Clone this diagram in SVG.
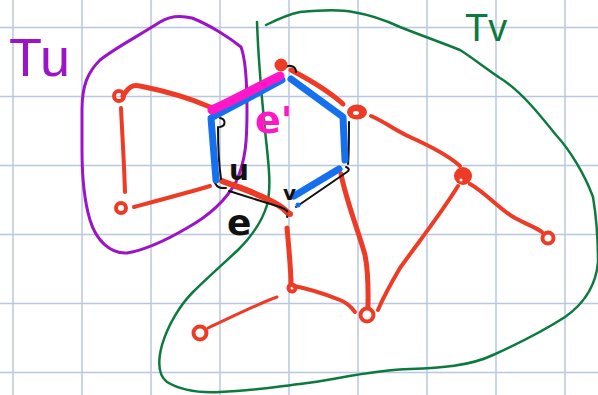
<svg xmlns="http://www.w3.org/2000/svg" width="598" height="395" viewBox="0 0 598 395">
<defs>
<style>
.grid line{stroke:#b9c8e0;stroke-width:1.5}
.red{fill:none;stroke:#ee3b26;stroke-linecap:round;stroke-linejoin:round}
.blue{fill:none;stroke:#1570ef;stroke-width:7;stroke-linecap:round;stroke-linejoin:round}
.blk{fill:none;stroke:#111;stroke-width:2;stroke-linecap:round;stroke-linejoin:round}
.nd{fill:none;stroke:#ee3b26;stroke-width:4}
.lbl{font-family:"DejaVu Sans","Liberation Sans",sans-serif}
.big{font-family:"Liberation Sans","DejaVu Sans",sans-serif}
</style>
</defs>
<rect width="598" height="395" fill="#fff"/>
<g class="grid">
<line x1="13" y1="0" x2="13" y2="395"/><line x1="82" y1="0" x2="82" y2="395"/><line x1="151" y1="0" x2="151" y2="395"/><line x1="220" y1="0" x2="220" y2="395"/><line x1="289" y1="0" x2="289" y2="395"/><line x1="358" y1="0" x2="358" y2="395"/><line x1="427" y1="0" x2="427" y2="395"/><line x1="496" y1="0" x2="496" y2="395"/><line x1="565" y1="0" x2="565" y2="395"/>
<line x1="0" y1="27.5" x2="598" y2="27.5"/><line x1="0" y1="96.5" x2="598" y2="96.5"/><line x1="0" y1="165.5" x2="598" y2="165.5"/><line x1="0" y1="234.5" x2="598" y2="234.5"/><line x1="0" y1="303.5" x2="598" y2="303.5"/><line x1="0" y1="372.5" x2="598" y2="372.5"/>
</g>
<g id="Tu-region">
<path d="M241,47 C246,60 247,80 247,110 C247,140 246,160 236,182 C225,202 205,218 187,228 C170,238 145,250 127,253 C110,254 96,240 90,220 C84,200 82,180 82,150 L82,110 C82,85 88,72 100,60 C115,48 140,35 160,22 C168,17 180,15 192,18 C210,25 230,38 241,47" fill="none" stroke="#9b14c8" stroke-width="3" stroke-linecap="round"/>
<text class="big" x="9" y="76" font-size="54" fill="#9b14c8">Tu</text>
</g>
<g id="Tv-region">
<path d="M257,22 C258,50 261,90 265,130 C268,160 272,185 267,205 C262,222 250,238 238,250 C225,262 205,280 193,292 C180,305 168,325 162,345 C158,360 158,375 167,382 C180,390 200,393 220,392 C250,391 275,387 300,384 C335,380 370,370 410,369 C440,368 470,366 493,355 C515,345 545,330 565,317 C585,303 596,285 598,262 C598,240 596,215 593,197 C585,175 570,150 556,135 C540,115 520,90 500,78 C485,68 470,56 460,50 C440,42 420,35 400,27 C385,20 365,14 353,12 C340,9 320,10 300,12 C290,14 280,18 266,25" fill="none" stroke="#0b7a3c" stroke-width="2.5" stroke-linecap="round"/>
<text class="big" x="465" y="41" font-size="38" fill="#0b7a3c">Tv</text>
</g>
<g id="connectors">
<path class="red" stroke-width="5" d="M123,96 C128,88 132,84 140,86 C160,90 185,96 210,107"/>
<path class="red" stroke-width="4" d="M121,108 C122,130 124,160 125,192"/>
<path class="red" stroke-width="4" d="M134,207 C160,200 190,192 210,186"/>
<path class="red" stroke-width="5" d="M291,70 C310,80 330,92 343,104"/>
<path class="red" stroke-width="4" d="M371,116 C385,122 395,130 410,137 C430,146 448,155 460,166"/>
<path class="red" stroke-width="4" d="M470,184 C485,192 500,210 515,218 C528,225 537,228 542,232"/>
<path class="red" stroke-width="4" d="M458,186 C440,215 420,240 400,268 C390,285 383,298 378,310"/>
<path class="red" stroke-width="5" d="M341,174 C346,200 358,230 365,255 C369,275 368,295 368,307"/>
<path class="red" stroke-width="4" d="M294,286 C310,289 325,294 340,300 C348,303 352,308 355,312"/>
<path class="red" stroke-width="5" d="M287,228 C289,250 291,270 291,284"/>
<path class="red" stroke-width="3" d="M208,328 C230,318 255,305 277,297"/>
<path class="red" stroke-width="6" d="M222,181 C235,186 248,190 258,195 C270,200 282,206 288,213"/>
<path class="blk" d="M218,127 C218,145 219,165 221,179 M220,118 C226,119 226,126 220,127 M215,183 C218,189 222,188 226,188 M229,191 L280,207 C286,209 290,212 287,217 M296,207 L347,172 C350,170 349,168 346,167 M349,122 C349,140 349,155 348,164 M285,68 C289,64 296,66 296,72"/>
<path class="blue" d="M282,80 L211,118 L216,180"/>
<path class="blue" d="M291,79 L343,117 L345,160"/>
<path class="blue" d="M339,169 L294,196"/>
<circle cx="298" cy="205" r="2.5" fill="#1570ef"/>
<path d="M212,110 C235,100 255,88 280,76" fill="none" stroke="#ff16c8" stroke-width="9" stroke-linecap="round"/>
</g>
<g id="node-A"><circle class="nd" cx="119" cy="96" r="5" stroke-width="3.5"/></g>
<g id="node-B"><circle class="nd" cx="121" cy="208" r="5" stroke-width="3.5"/></g>
<g id="node-C"><circle cx="281" cy="65" r="6.5" fill="#ee3b26"/></g>
<g id="node-D"><ellipse cx="357" cy="112" rx="10" ry="7.5" fill="#ee3b26"/><ellipse cx="356" cy="113" rx="3" ry="2" fill="#fff"/></g>
<g id="node-E"><circle cx="463" cy="176" r="9" fill="#ee3b26"/><circle cx="461" cy="180" r="1.5" fill="#fff"/></g>
<g id="node-F"><circle class="nd" cx="548" cy="238" r="5.5"/></g>
<g id="node-G"><circle class="nd" cx="292" cy="288" r="3.5" stroke-width="3"/></g>
<g id="node-H"><circle class="nd" cx="367" cy="315" r="6.5" stroke-width="5"/></g>
<g id="node-I"><circle class="nd" cx="200" cy="333" r="6.5"/></g>
<g id="node-v"><circle cx="290" cy="214" r="3" fill="#ee3b26"/></g>
<g id="labels">
<text class="lbl" x="255" y="133" font-size="38" font-weight="bold" fill="#ff16c8">e'</text>
<text class="lbl" x="229" y="180" font-size="28" font-weight="bold" fill="#111">u</text>
<text class="lbl" x="283" y="200" font-size="20" font-weight="bold" fill="#111">v</text>
<text class="lbl" x="227" y="235" font-size="36" font-weight="bold" fill="#111">e</text>
</g>
</svg>
